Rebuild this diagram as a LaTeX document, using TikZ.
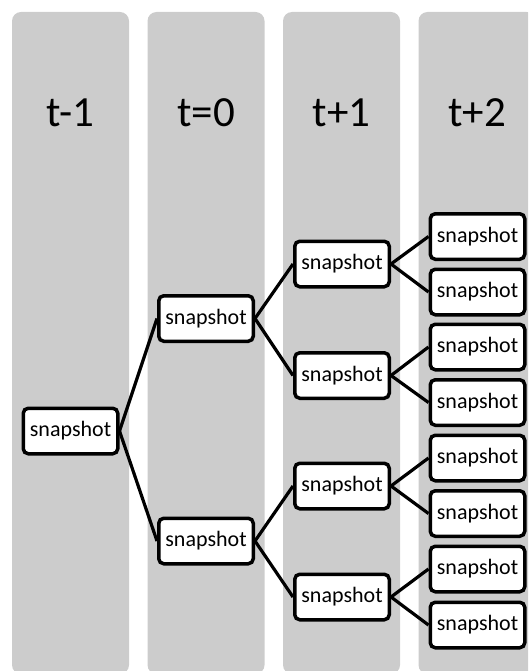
\documentclass[tikz,border=0pt]{standalone}
\usepackage{fontspec}
\setmainfont{Carlito}
\begin{document}
\begin{tikzpicture}[x=1pt,y=-1pt,
  lane/.style={fill=black!20,draw=none,rounded corners=9pt},
  lanetitle/.style={anchor=base,font=\fontsize{43}{48}\selectfont,inner sep=0pt},
  snap/.style={draw=black,fill=white,line width=3.5pt,rounded corners=5pt,
    minimum width=94.5pt,minimum height=45.5pt,inner sep=0pt,
    font=\fontsize{22}{26}\selectfont},
  link/.style={draw=black,line width=3.2pt}]
\useasboundingbox (0,0) rectangle (528,671);
\clip (0,0) rectangle (528,671);
% time lanes
\foreach \x/\lbl [count=\i] in {12/t-1,147.5/t=0,283/t+1,418.5/t+2}{
  \fill[lane] (\x,12) rectangle ++(117,662);
  \node[lanetitle] (title\i) at (\x+58.5,127) {\lbl};
}
% snapshot tree
\node[snap] (a) at (70.5,431) {snapshot};
\node[snap] (b1) at (206,318.5) {snapshot};
\node[snap] (b2) at (206,541) {snapshot};
\node[snap] (c1) at (342,264) {snapshot};
\node[snap] (c2) at (342,375.5) {snapshot};
\node[snap] (c3) at (342,486) {snapshot};
\node[snap] (c4) at (342,597) {snapshot};
\foreach \y [count=\k] in {236.5,292,347,402.5,458,513.5,569,625}{
  \node[snap] (d\k) at (477.5,\y) {snapshot};
}
% connectors
\foreach \p/\c in {a/b1,a/b2,b1/c1,b1/c2,b2/c3,b2/c4,
  c1/d1,c1/d2,c2/d3,c2/d4,c3/d5,c3/d6,c4/d7,c4/d8}{
  \draw[link] (\p.east) -- (\c.west);
}
\end{tikzpicture}
\end{document}
